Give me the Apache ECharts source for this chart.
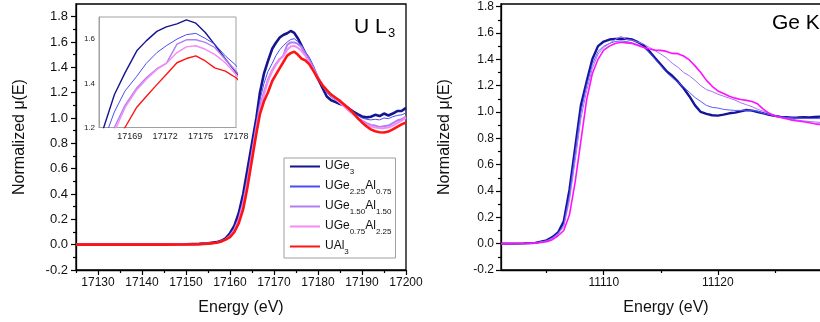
<!DOCTYPE html>
<html><head><meta charset="utf-8">
<script src="https://cdn.jsdelivr.net/npm/echarts@6/dist/echarts.min.js"></script>
<style>html,body{margin:0;padding:0;background:#fff}#c{width:820px;height:322px}</style>
</head><body><div id="c"></div>
<script>
// ---- U L3 edge (left panel) ----
const energyU = [17125,17130,17135,17140,17145,17150,17153,17155,17157,17158,17159,17160,17161,17162,17163,17164,17165,17166,17166.8,17167.7,17168.6,17169.6,17170.4,17171.3,17172.1,17173,17173.8,17174.6,17175.4,17176.2,17177.1,17178,17179,17180,17181,17182,17183,17184,17185,17186,17187,17188,17189,17190,17191,17192,17193,17194,17195,17196,17197,17198,17199,17200];
const uUGe3 = [0,0,0,0,0.001,0.003,0.006,0.01,0.02,0.03,0.05,0.09,0.15,0.25,0.4,0.6,0.8,1.0,1.2,1.348,1.447,1.547,1.592,1.635,1.655,1.669,1.687,1.672,1.63,1.575,1.51,1.45,1.38,1.31,1.24,1.17,1.14,1.125,1.11,1.1,1.075,1.05,1.03,1.012,1.005,1.01,1.025,1.015,1.035,1.02,1.035,1.055,1.055,1.08];
const uUGe225 = [0,0,0,0,0.001,0.003,0.006,0.01,0.018,0.028,0.045,0.08,0.13,0.22,0.36,0.55,0.76,0.97,1.14,1.27,1.365,1.432,1.49,1.539,1.57,1.6,1.62,1.626,1.603,1.577,1.524,1.481,1.41,1.33,1.26,1.2,1.165,1.14,1.12,1.1,1.07,1.045,1.02,1.0,0.99,0.985,0.99,0.985,1.0,0.995,1.01,1.02,1.025,1.04];
const uUGe150 = [0,0,0,0,0,0.002,0.005,0.009,0.016,0.026,0.042,0.07,0.12,0.2,0.33,0.51,0.72,0.93,1.09,1.2,1.3,1.379,1.425,1.466,1.49,1.577,1.597,1.597,1.585,1.562,1.508,1.455,1.39,1.32,1.26,1.21,1.18,1.15,1.12,1.09,1.06,1.03,1.0,0.98,0.96,0.945,0.94,0.93,0.935,0.94,0.96,0.98,0.99,1.01];
const uUGe075 = [0,0,0,0,0,0.002,0.004,0.008,0.015,0.025,0.04,0.065,0.11,0.19,0.31,0.49,0.7,0.91,1.06,1.18,1.29,1.371,1.417,1.463,1.49,1.539,1.565,1.57,1.554,1.531,1.493,1.44,1.38,1.32,1.26,1.22,1.18,1.15,1.12,1.09,1.06,1.03,1.0,0.97,0.95,0.935,0.925,0.92,0.92,0.925,0.94,0.96,0.98,1.0];
const uUAl3 = [0,0,0,0,0,0.002,0.004,0.008,0.015,0.025,0.04,0.06,0.1,0.17,0.28,0.46,0.67,0.88,1.03,1.13,1.2,1.292,1.34,1.394,1.44,1.493,1.512,1.524,1.501,1.47,1.455,1.425,1.37,1.31,1.26,1.22,1.185,1.16,1.135,1.105,1.075,1.04,1.0,0.965,0.935,0.91,0.895,0.888,0.886,0.893,0.91,0.93,0.95,0.965];

// ---- Ge K edge (right panel) ----
const energyGe = [11101,11102,11103,11104,11105,11105.5,11106,11106.5,11107,11107.5,11108,11108.5,11109,11109.5,11110,11110.5,11111,11111.5,11112,11112.5,11113,11113.5,11114,11114.5,11115,11115.5,11116,11116.5,11117,11117.5,11118,11118.5,11119,11119.5,11120,11120.5,11121,11121.5,11122,11122.5,11123,11123.5,11124,11124.5,11125,11125.5,11126,11126.5,11127,11127.5,11128,11128.5,11129,11130];
const gUGe3 = [0,0,0.002,0.006,0.025,0.05,0.085,0.17,0.41,0.73,1.05,1.23,1.40,1.50,1.535,1.55,1.555,1.556,1.556,1.55,1.53,1.506,1.46,1.41,1.36,1.31,1.275,1.23,1.18,1.12,1.05,1.0,0.985,0.975,0.972,0.98,0.99,0.995,1.005,1.015,1.01,1.0,0.99,0.978,0.97,0.963,0.96,0.957,0.958,0.96,0.958,0.962,0.965,0.962];
const gUGe225 = [0,0,0.002,0.005,0.022,0.045,0.08,0.14,0.37,0.69,1.0,1.2,1.36,1.46,1.5,1.52,1.535,1.54,1.535,1.525,1.51,1.49,1.45,1.40,1.35,1.30,1.26,1.225,1.19,1.15,1.11,1.08,1.05,1.035,1.03,1.02,1.015,1.012,1.012,1.014,1.012,1.005,0.99,0.98,0.972,0.963,0.958,0.955,0.953,0.952,0.95,0.95,0.95,0.948];
const gUGe150 = [0,0,0.002,0.005,0.02,0.04,0.075,0.13,0.33,0.63,0.95,1.16,1.33,1.44,1.49,1.52,1.55,1.574,1.55,1.545,1.53,1.515,1.49,1.465,1.44,1.41,1.37,1.34,1.30,1.275,1.24,1.20,1.17,1.155,1.135,1.12,1.105,1.09,1.07,1.055,1.04,1.02,1.005,0.99,0.97,0.96,0.95,0.945,0.938,0.932,0.928,0.924,0.92,0.915];
const gUGe075 = [0,0,0.001,0.004,0.015,0.03,0.06,0.1,0.22,0.47,0.78,1.09,1.29,1.40,1.47,1.5,1.52,1.53,1.525,1.52,1.505,1.49,1.478,1.47,1.468,1.46,1.445,1.443,1.425,1.395,1.35,1.30,1.24,1.195,1.16,1.14,1.12,1.105,1.095,1.088,1.08,1.06,1.02,0.99,0.97,0.958,0.948,0.938,0.932,0.926,0.918,0.91,0.905,0.898];

// ---- ticks ----
const xTicksU = [17130,17140,17150,17160,17170,17180,17190,17200];
const xMinorU = [17125,17135,17145,17155,17165,17175,17185,17195];
const yTicks = [-0.2,0,0.2,0.4,0.6,0.8,1.0,1.2,1.4,1.6,1.8];
const yMinor = [-0.1,0.1,0.3,0.5,0.7,0.9,1.1,1.3,1.5,1.7];
const xTicksGe = [11110,11120,11130];
const xLabelsGe = [11110,11120];
const xMinorGe = [11105,11115,11125];
const insetXTicks = [17169,17172,17175,17178];
const insetYTicks = [1.2,1.4,1.6];

const seriesNames = ['UGe3','UGe2.25Al0.75','UGe1.50Al1.50','UGe0.75Al2.25','UAl3'];
const legendRich = {
  'UGe3': '{m|UGe}{s|3}',
  'UGe2.25Al0.75': '{m|UGe}{s|2.25}{m|Al}{s|0.75}',
  'UGe1.50Al1.50': '{m|UGe}{s|1.50}{m|Al}{s|1.50}',
  'UGe0.75Al2.25': '{m|UGe}{s|0.75}{m|Al}{s|2.25}',
  'UAl3': '{m|UAl}{s|3}'
};
const colorsU = ['#15158f','#4c4cf2','#b27ef4','#f48cf4','#ff1414'];
const widthsU = [2.6,1,2,2,2.6];
const colorsGe = ['#15159a','#5a5aff','#a470f8','#ff10ff'];
const widthsGe = [2.4,1,1,1.6];

const FONT = '"Liberation Sans", Arial, sans-serif';
const chart = echarts.init(document.getElementById('c'), null, {renderer:'canvas'});

function pairs(xs, ys){ return xs.map((x,i)=>[x, ys[i]]); }
const dataU = [uUGe3,uUGe225,uUGe150,uUGe075,uUAl3];
const dataGe = [gUGe3,gUGe225,gUGe150,gUGe075];

function majorX(gridIndex, min, max, ticks, labels, fs){
  return {type:'value', gridIndex, min, max, position:'bottom',
    axisLine:{show:true, onZero:false, lineStyle:{color:'#000', width:1.3}},
    axisTick:{show:true, inside:false, length:5, customValues:ticks, lineStyle:{color:'#000', width:1.2}},
    axisLabel:{show:true, customValues:labels, margin:7, fontSize:fs, color:'#111', fontFamily:FONT, formatter:v=>String(v)},
    splitLine:{show:false}};
}
function minorX(gridIndex, min, max, ticks){
  return {type:'value', gridIndex, min, max, position:'bottom',
    axisLine:{show:false, onZero:false},
    axisTick:{show:true, inside:false, length:3, customValues:ticks, lineStyle:{color:'#000', width:1.2}},
    axisLabel:{show:false}, splitLine:{show:false}};
}
function majorY(gridIndex, min, max, fs, margin){
  return {type:'value', gridIndex, min, max, position:'left',
    axisLine:{show:true, onZero:false, lineStyle:{color:'#000', width:1.3}},
    axisTick:{show:true, inside:false, length:5, customValues:yTicks, lineStyle:{color:'#000', width:1.2}},
    axisLabel:{show:true, customValues:yTicks, margin, fontSize:fs, color:'#111', fontFamily:FONT, formatter:v=>v.toFixed(1)},
    splitLine:{show:false}};
}
function minorY(gridIndex, min, max){
  return {type:'value', gridIndex, min, max, position:'left',
    axisLine:{show:false, onZero:false},
    axisTick:{show:true, inside:false, length:3, customValues:yMinor, lineStyle:{color:'#000', width:1.2}},
    axisLabel:{show:false}, splitLine:{show:false}};
}

const series = [];
seriesNames.forEach((n,i)=>{
  series.push({name:n, type:'line', xAxisIndex:0, yAxisIndex:0, data:pairs(energyU, dataU[i]),
    symbol:'none', lineStyle:{color:colorsU[i], width:widthsU[i]}, itemStyle:{color:colorsU[i]}, z:2+i, animation:false});
});
seriesNames.forEach((n,i)=>{
  series.push({name:'inset '+n, type:'line', xAxisIndex:4, yAxisIndex:4, data:pairs(energyU, dataU[i]),
    symbol:'none', clip:true, lineStyle:{color:colorsU[i], width:(i===1?1:1.4)}, itemStyle:{color:colorsU[i]}, z:12+i, animation:false});
});
seriesNames.slice(0,4).forEach((n,i)=>{
  series.push({name:'Ge '+n, type:'line', xAxisIndex:2, yAxisIndex:2, data:pairs(energyGe, dataGe[i]),
    symbol:'none', lineStyle:{color:colorsGe[i], width:widthsGe[i]}, itemStyle:{color:colorsGe[i]}, z:2+i, animation:false});
});

chart.setOption({
  animation:false,
  backgroundColor:'#fff',
  textStyle:{fontFamily:FONT},
  grid:[
    {left:76, top:4, width:330, height:266, show:true, borderColor:'#000', borderWidth:1.3, backgroundColor:'transparent', outerBoundsMode:'none', containLabel:false},
    {left:501, top:4, width:331, height:266, show:true, borderColor:'#000', borderWidth:1.3, backgroundColor:'transparent', outerBoundsMode:'none', containLabel:false},
    {left:99, top:17, width:137, height:110.5, show:true, borderColor:'#a0a0a0', borderWidth:1, backgroundColor:'#fff', z:10, outerBoundsMode:'none', containLabel:false}
  ],
  xAxis:[
    majorX(0, 17125, 17200, xTicksU, xTicksU, 12),
    minorX(0, 17125, 17200, xMinorU),
    majorX(1, 11101, 11130, xTicksGe, xLabelsGe, 12),
    minorX(1, 11101, 11130, xMinorGe),
    {type:'value', gridIndex:2, min:17166.4, max:17178, position:'bottom',
      axisLine:{show:true, onZero:false, lineStyle:{color:'#a0a0a0', width:1}},
      axisTick:{show:false},
      axisLabel:{show:true, customValues:insetXTicks, margin:5, fontSize:9, color:'#222', fontFamily:FONT, formatter:v=>String(v)},
      splitLine:{show:false}, z:11}
  ],
  yAxis:[
    majorY(0, -0.2, 1.9, 13, 8),
    minorY(0, -0.2, 1.9),
    majorY(1, -0.2, 1.82, 12, 7),
    minorY(1, -0.2, 1.82),
    {type:'value', gridIndex:2, min:1.2, max:1.7, position:'left',
      axisLine:{show:true, onZero:false, lineStyle:{color:'#a0a0a0', width:1}},
      axisTick:{show:false},
      axisLabel:{show:true, customValues:insetYTicks, margin:4, fontSize:8, color:'#222', fontFamily:FONT, formatter:v=>v.toFixed(1)},
      splitLine:{show:false}, z:11}
  ],
  legend:{
    data:seriesNames, orient:'vertical', left:284, top:158, itemWidth:30, itemHeight:12, itemGap:4,
    padding:[2,4,2,5], borderColor:'#a0a0a0', borderWidth:1, backgroundColor:'#fff', selectedMode:false,
    itemStyle:{opacity:0, borderWidth:0},
    formatter:n=>legendRich[n],
    textStyle:{color:'#111', fontFamily:FONT, rich:{
      m:{fontSize:12, lineHeight:13, verticalAlign:'top', fontFamily:FONT, color:'#111'},
      s:{fontSize:8, lineHeight:8, padding:[8,0,0,0], verticalAlign:'top', fontFamily:FONT, color:'#111'}
    }}
  },
  graphic:[
    {type:'text', x:20, y:137, rotation:Math.PI/2, style:{text:'Normalized μ(E)', font:'16px '+FONT, fill:'#111', align:'center', verticalAlign:'middle'}},
    {type:'text', x:445, y:137, rotation:Math.PI/2, style:{text:'Normalized μ(E)', font:'16px '+FONT, fill:'#111', align:'center', verticalAlign:'middle'}},
    {type:'text', x:241, y:308, style:{text:'Energy (eV)', font:'16px '+FONT, fill:'#111', align:'center', verticalAlign:'middle'}},
    {type:'text', x:666, y:308, style:{text:'Energy (eV)', font:'16px '+FONT, fill:'#111', align:'center', verticalAlign:'middle'}},
    {type:'text', x:354, y:27, style:{text:'U L', font:'21px '+FONT, fill:'#000', align:'left', verticalAlign:'middle'}},
    {type:'text', x:388, y:33, style:{text:'3', font:'13px '+FONT, fill:'#000', align:'left', verticalAlign:'middle'}},
    {type:'text', x:772, y:23, style:{text:'Ge K', font:'21px '+FONT, fill:'#000', align:'left', verticalAlign:'middle'}}
  ],
  series
});
</script>
</body></html>
